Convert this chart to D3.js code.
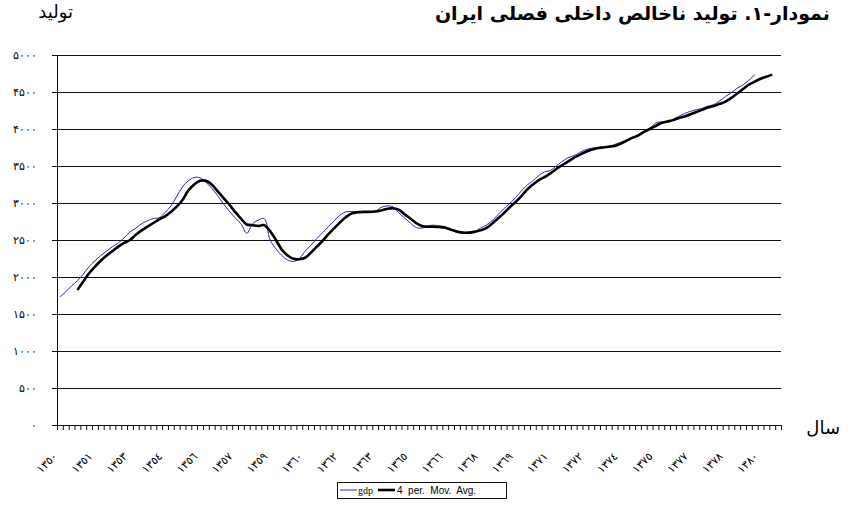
<!DOCTYPE html>
<html>
<head>
<meta charset="utf-8">
<script src="https://cdn.jsdelivr.net/npm/d3@7"></script>
<style>
  body { margin: 0; background: #fff; }
  svg { display: block; font-family: "DejaVu Sans", sans-serif; }
</style>
</head>
<body>
<div id="chart"></div>
<script>
// quarterly GDP, 1350 Q1 .. 1379 Q4
var gdp = [1730,1800,1880,1950,2040,2140,2220,2290,2350,2410,
  2460,2530,2610,2660,2720,2760,2790,2800,2870,2960,
  3090,3220,3300,3345,3340,3280,3200,3100,2990,2890,
  2800,2720,2590,2720,2770,2790,2500,2380,2290,2230,
  2210,2250,2350,2430,2520,2600,2680,2760,2840,2880,
  2885,2880,2875,2880,2890,2940,2960,2950,2870,2800,
  2730,2670,2660,2690,2700,2690,2680,2640,2600,2590,
  2590,2610,2660,2700,2760,2840,2920,2990,3070,3160,
  3240,3300,3370,3420,3440,3500,3560,3610,3640,3680,
  3720,3740,3750,3760,3765,3790,3820,3850,3880,3920,
  3960,4000,4080,4095,4100,4130,4170,4210,4240,4260,
  4280,4310,4330,4380,4440,4490,4550,4595,4660,4730];

// 4 period moving average, starts at the 4th quarter
var maStart = 3;
var movAvg = [1825,1940,2050,2140,2220,2290,2350,2410,2460,2500,
  2570,2630,2680,2730,2780,2820,2880,2950,3040,3170,
  3250,3300,3300,3250,3160,3070,2980,2880,2790,2710,
  2700,2690,2700,2620,2500,2370,2290,2245,2240,2260,
  2330,2410,2490,2580,2660,2740,2810,2860,2875,2880,
  2880,2885,2900,2920,2930,2910,2850,2790,2730,2690,
  2680,2680,2675,2665,2640,2615,2600,2600,2610,2630,
  2660,2720,2790,2860,2940,3010,3090,3180,3250,3310,
  3350,3400,3460,3510,3560,3610,3650,3690,3720,3740,
  3750,3760,3770,3800,3840,3880,3910,3960,4000,4040,
  4080,4100,4120,4150,4170,4200,4230,4260,4290,4310,
  4340,4370,4420,4480,4540,4600,4640,4680,4705,4735];

var nCats = 124;
var xLabels = ['١٣٥٠','١٣٥١','١٣٥٣','١٣٥٤','١٣٥٦','١٣٥٧','١٣٥٩','١٣٦٠','١٣٦٢','١٣٦٣','١٣٦٥',
  '١٣٦٦','١٣٦٨','١٣٦٩','١٣٧١','١٣٧٢','١٣٧٤','١٣٧٥','١٣٧٧','١٣٧٨','١٣٨٠'];
var labelStep = 6;
var yTicks = [0,500,1000,1500,2000,2500,3000,3500,4000,4500,5000];
var yTickLabels = ['۰','۵۰۰','۱۰۰۰','۱۵۰۰','۲۰۰۰','۲۵۰۰','۳۰۰۰','۳۵۰۰','۴۰۰۰','۴۵۰۰','۵۰۰۰'];

var margin = {top: 55, right: 74, bottom: 87, left: 57},
    width = 855 - margin.left - margin.right,
    height = 512 - margin.top - margin.bottom;

var svg = d3.select("#chart")
  .append("svg")
    .attr("width", 855)
    .attr("height", 512);

var g = svg.append("g")
    .attr("transform", "translate(" + margin.left + "," + margin.top + ")");

var x = d3.scaleBand()
  .domain(d3.range(nCats))
  .range([0, width])
  .padding(0);

var y = d3.scaleLinear()
  .domain([0, 5000])
  .range([height, 0]);

// gridlines
g.append("g")
  .selectAll("line")
  .data(yTicks.slice(1))
  .enter().append("line")
    .attr("x1", 0)
    .attr("x2", width)
    .attr("y1", function(d){ return y(d) + 0.5 })
    .attr("y2", function(d){ return y(d) + 0.5 })
    .attr("stroke", "#111")
    .attr("stroke-width", 1);

// y axis
var yAxis = g.append("g")
  .call(d3.axisLeft(y).tickValues(yTicks).tickSize(5).tickPadding(15)
    .tickFormat(function(d, i){ return yTickLabels[i] }));
yAxis.select(".domain").attr("stroke", "#111").attr("d", "M0.5," + height + "V0");
yAxis.selectAll(".tick line").attr("stroke", "#111");
yAxis.selectAll("text")
  .style("font-size", "11px")
  .attr("fill", "#000");

// x axis with a tick at every quarter boundary
var boundaries = d3.range(nCats + 1).map(function(i){ return i * x.bandwidth() });
var xg = g.append("g").attr("transform", "translate(0," + height + ")");
xg.append("line")
  .attr("x1", -5).attr("x2", width)
  .attr("y1", 0.5).attr("y2", 0.5)
  .attr("stroke", "#111");
xg.selectAll(".qtick")
  .data(boundaries)
  .enter().append("line")
    .attr("class", "qtick")
    .attr("x1", function(d){ return d + 0.5 })
    .attr("x2", function(d){ return d + 0.5 })
    .attr("y1", 0)
    .attr("y2", 5)
    .attr("stroke", "#111");

xg.selectAll(".xlab")
  .data(xLabels)
  .enter().append("text")
    .attr("class", "xlab")
    .attr("transform", function(d, i){
      var cx = x(i * labelStep) + x.bandwidth() / 2;
      return "translate(" + (cx - 2) + ",32) rotate(-45)";
    })
    .attr("text-anchor", "end")
    .style("font-size", "11px")
    .text(function(d){ return d });

// lines
var line = d3.line()
  .x(function(d){ return x(d.i) + x.bandwidth() / 2 })
  .y(function(d){ return y(d.v) })
  .curve(d3.curveCatmullRom.alpha(0.5));

var gdpPts = gdp.map(function(v, i){ return {i: i, v: v} });
var maPts = movAvg.map(function(v, i){ return {i: i + maStart, v: v} });

g.append("path")
  .datum(gdpPts)
  .attr("d", line)
  .attr("fill", "none")
  .attr("stroke", "#2b2ba6")
  .attr("stroke-width", 1);

g.append("path")
  .datum(maPts)
  .attr("d", line)
  .attr("fill", "none")
  .attr("stroke", "#000")
  .attr("stroke-width", 2.6);

// titles
svg.append("text")
  .attr("x", 830).attr("y", 20)
  .attr("text-anchor", "end")
  .style("font-size", "19px")
  .style("font-weight", "bold")
  .text("نمودار-۱. تولید ناخالص داخلی فصلی ایران");

svg.append("text")
  .attr("x", 73).attr("y", 18)
  .attr("text-anchor", "end")
  .style("font-size", "18px")
  .text("تولید");

svg.append("text")
  .attr("x", 840).attr("y", 434)
  .attr("text-anchor", "end")
  .style("font-size", "18px")
  .text("سال");

// legend
var leg = svg.append("g").attr("transform", "translate(337,482)");
leg.append("rect")
  .attr("x", 0.5).attr("y", 0.5)
  .attr("width", 169).attr("height", 16)
  .attr("fill", "#fff")
  .attr("stroke", "#111");
leg.append("line")
  .attr("x1", 3).attr("x2", 20).attr("y1", 8).attr("y2", 8)
  .attr("stroke", "#2b2ba6").attr("stroke-width", 1);
leg.append("text")
  .attr("x", 21).attr("y", 12)
  .style("font-family", "Liberation Serif, serif")
  .style("font-size", "10px")
  .text("gdp");
leg.append("line")
  .attr("x1", 41).attr("x2", 58).attr("y1", 8).attr("y2", 8)
  .attr("stroke", "#000").attr("stroke-width", 2.6);
leg.append("text")
  .attr("x", 60).attr("y", 12)
  .style("font-family", "Liberation Sans, sans-serif")
  .style("font-size", "10px")
  .attr("xml:space", "preserve")
  .text("4  per.  Mov.  Avg.");
</script>
</body>
</html>
